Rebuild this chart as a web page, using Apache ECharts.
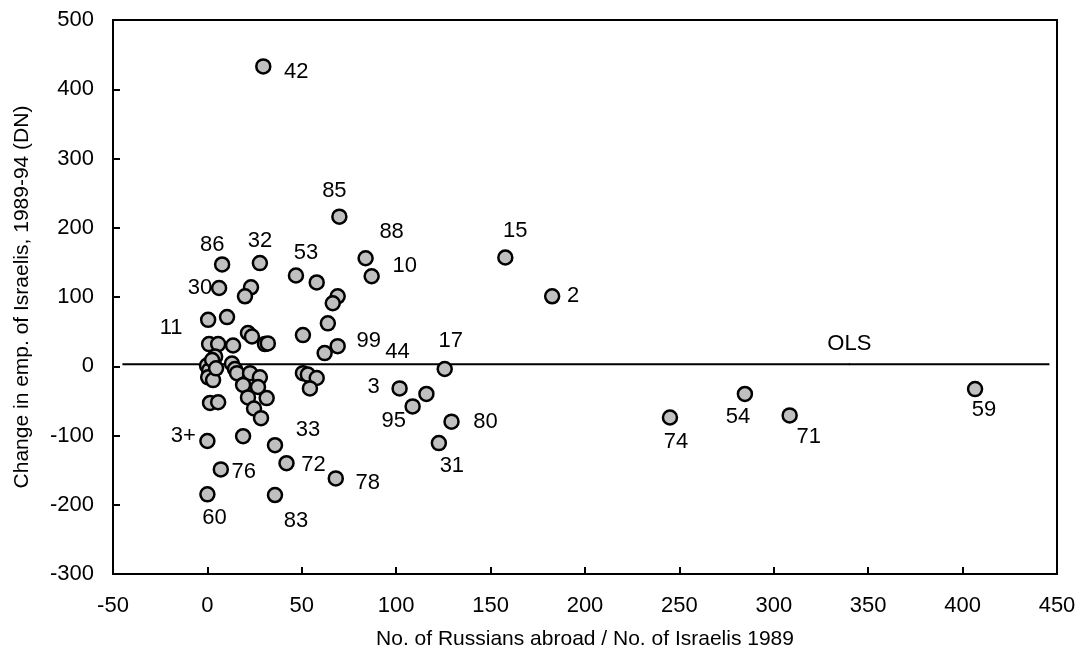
<!DOCTYPE html>
<html>
<head>
<meta charset="utf-8">
<script src="https://cdn.jsdelivr.net/npm/echarts@6/dist/echarts.min.js"></script>
<style>
  html, body { margin: 0; padding: 0; background: #fff; }
  #chart { width: 1084px; height: 657px; }
</style>
</head>
<body>
<div id="chart"></div>
<script>
// Russians abroad per Israeli (1989) vs. change in Israeli employment 1989-94, by industry code
const ratioRussians = [
  29.6, 69.9, 83.8, 87.0, 157.8, 182.6, 7.8, 27.8, 46.9, 6.2,
  0.4, 69.0, 116.0, 101.8, 108.7, 125.7, 129.3, 122.6, 245.0, 284.7,
  308.4, 406.6, 35.8, 41.9, 68.0, 35.8, 0.0, 7.1, 0.0,
  57.9, 69.0, 66.4, 63.8, 50.6, 62.1, 23.1, 19.9, 10.4, 21.5,
  23.6, 30.5, 32.0, 0.9, 5.7, 13.6, 4.1, -0.2, 0.9, 0.4,
  3.0, 2.5, 4.6, 13.0, 14.6, 15.7, 22.6, 27.8, 18.9, 26.8,
  21.5, 31.4, 24.7, 28.4, 1.4, 5.7, 18.9, 50.6, 53.2, 57.9, 54.3
];
const changeEmp = [
  433, 216, 156, 130, 157, 101, 147, 149, 131, 113,
  67, 29, -40, -32, -58, -4, -80, -111, -74, -40,
  -71, -33, -114, -140, -162, -186, -108, -149, -185,
  121, 101, 91, 62, 45, 19, 114, 101, 71, 48,
  43, 32, 33, 32, 32, 30, 14, 1, -6, -16,
  -20, 9, -3, 4, -4, -10, -10, -16, -27, -30,
  -45, -46, -61, -75, -53, -52, -101, -10, -12, -17, -32
];
const industryCodes = [
  '42', '85', '88', '10', '15', '2', '86', '32', '53', '30',
  '11', '99', '44', '3', '95', '17', '80', '31', '74', '54',
  '71', '59', '33', '72', '78', '83', '3+', '76', '60'
];
// OLS fit (essentially flat)
const olsX = [-45, 446];
const olsY = [3, 3];
const olsLabelX = 340;

const xTicks = { min: -50, max: 450, step: 50 };
const yTicks = { min: -300, max: 500, step: 100 };

// where each code label sits relative to its marker (pixels)
const labelShift = {
  '42': [33, 6], '85': [-5, -26], '88': [26, -26], '10': [33, -10], '15': [10, -27],
  '2': [21, 0], '86': [-10, -20], '32': [0, -22], '53': [10, -23], '30': [-19, 0],
  '11': [-37, 8], '99': [31, -5], '44': [-29, -42], '3': [-26, -1], '95': [-19, 15],
  '17': [6, -28], '80': [34, 0], '31': [13, 23], '74': [6, 24], '54': [-7, 23],
  '71': [19, 22], '59': [9, 21], '33': [33, -15], '72': [27, 2], '78': [32, 5],
  '83': [21, 26], '3+': [-24, -5], '76': [23, 3], '60': [7, 24]
};

const FONT = 'Liberation Sans, Arial, sans-serif';
const plainText = { color: '#000', fontSize: 22, fontFamily: FONT, textBorderWidth: 0, textShadowBlur: 0, opacity: 1 };

const points = ratioRussians.map((x, i) => {
  const code = industryCodes[i] || '';
  const item = { value: [x, changeEmp[i]] };
  if (code) {
    item.label = Object.assign({
      show: true,
      position: 'inside',
      offset: labelShift[code] || [0, -20],
      formatter: code
    }, plainText);
  }
  return item;
});

const chart = echarts.init(document.getElementById('chart'), null, { renderer: 'canvas' });
chart.setOption({
  animation: false,
  backgroundColor: '#fff',
  grid: {
    left: 113, right: 27, top: 20, bottom: 83,
    show: true, borderColor: '#000', borderWidth: 2, backgroundColor: 'transparent'
  },
  xAxis: {
    type: 'value',
    min: xTicks.min, max: xTicks.max, interval: xTicks.step,
    name: 'No. of Russians abroad / No. of Israelis 1989',
    nameLocation: 'middle', nameGap: 55,
    nameTextStyle: { color: '#000', fontSize: 21, fontFamily: FONT },
    axisLine: { show: true, onZero: false, lineStyle: { color: '#000', width: 2 } },
    axisTick: { show: true, inside: true, length: 7, lineStyle: { color: '#000', width: 2 } },
    axisLabel: { color: '#000', fontSize: 22, fontFamily: FONT, margin: 21 },
    splitLine: { show: false }
  },
  yAxis: {
    type: 'value',
    min: yTicks.min, max: yTicks.max, interval: yTicks.step,
    name: 'Change in emp. of Israelis, 1989-94 (DN)',
    nameLocation: 'middle', nameGap: 80, nameRotate: 90,
    nameTextStyle: { color: '#000', fontSize: 21, fontFamily: FONT },
    axisLine: { show: true, onZero: false, lineStyle: { color: '#000', width: 2 } },
    axisTick: { show: true, inside: true, length: 7, lineStyle: { color: '#000', width: 2 } },
    axisLabel: { color: '#000', fontSize: 22, fontFamily: FONT, margin: 19 },
    splitLine: { show: false }
  },
  series: [
    {
      type: 'line',
      data: olsX.map((x, i) => [x, olsY[i]]),
      symbol: 'none',
      lineStyle: { color: '#000', width: 2 },
      z: 1,
      silent: true
    },
    {
      type: 'scatter',
      data: [[olsLabelX, olsY[0]]],
      symbol: 'circle',
      symbolSize: 2,
      itemStyle: { color: '#000' },
      label: Object.assign({
        show: true, position: 'top', distance: 8, formatter: 'OLS'
      }, plainText),
      z: 2,
      silent: true
    },
    {
      type: 'scatter',
      data: points,
      symbol: 'circle',
      symbolSize: 14,
      itemStyle: { color: '#c0c0c0', borderColor: '#000', borderWidth: 2.5, opacity: 1 },
      z: 3
    }
  ]
});
</script>
</body>
</html>
